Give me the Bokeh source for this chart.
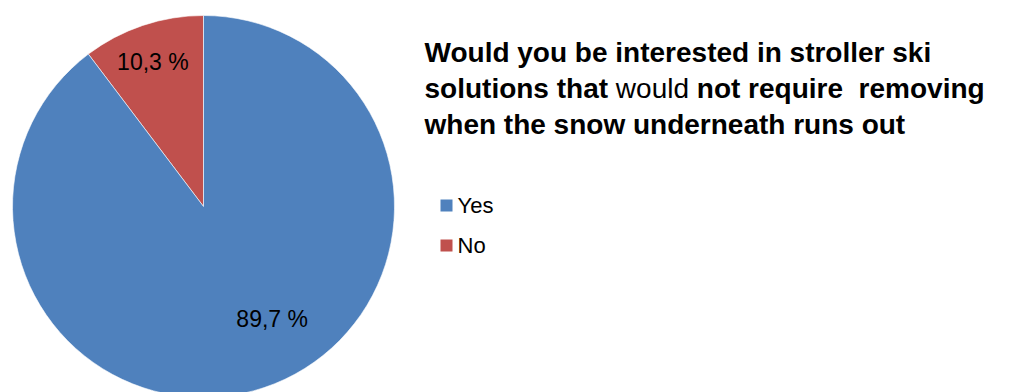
from bokeh.plotting import figure
from bokeh.models import Range1d, ColumnDataSource
from bokeh.core.properties import value
from bokeh.embed import file_html
from bokeh.resources import INLINE
import math

# Data
categories = ["Yes", "No"]
shares = [89.7, 10.3]
labels = ["89,7 %", "10,3 %"]
colors = ["#4F81BD", "#C0504D"]
title_lines = [
    [("Would you be interested in stroller ski", "bold")],
    [("solutions that ", "bold"), ("would", "normal"), (" not require", "bold"), ("  removing", "bold")],
    [("when the snow underneath runs out", "bold")],
]

W, H = 1021, 392
FONT = "Liberation Sans"
TITLE_SIZE = 28

p = figure(width=W, height=H, output_backend="svg", toolbar_location=None,
           x_range=Range1d(0, W), y_range=Range1d(0, H), min_border=0)
p.axis.visible = False
p.grid.visible = False
p.outline_line_color = None
p.background_fill_color = "white"


def px(x):
    return x


def py(y):
    return H - y


# Arial / Liberation Sans advance widths (per 1000 em) for the glyphs used
_reg = {" ": 278, "w": 722, "o": 556, "u": 556, "l": 222, "d": 556}
_bold = {" ": 278, "s": 556, "o": 611, "l": 278, "u": 611, "t": 333, "i": 278,
         "n": 611, "h": 611, "a": 556, "e": 556, "r": 389, "q": 611, "m": 889,
         "v": 556, "g": 611, "w": 778, "d": 611}


def text_width(s, style, size):
    tab = _bold if style == "bold" else _reg
    return sum(tab.get(ch, 556) for ch in s) * size / 1000.0


cx, cy, R = px(203), py(206), 191

# Slices: "No" starts at 12 o'clock going counter-clockwise, "Yes" fills the rest
total = sum(shares)
order = [1, 0]
starts, ends, cols = [], [], []
ang = math.pi / 2
angles = {}
for i in order:
    a = shares[i] / total * 2 * math.pi
    starts.append(ang)
    ends.append(ang + a)
    cols.append(colors[i])
    angles[i] = (ang, ang + a)
    ang += a

src = ColumnDataSource(dict(x=[cx] * 2, y=[cy] * 2, s=starts, e=ends, c=cols))
p.wedge(x="x", y="y", radius=R, start_angle="s", end_angle="e", fill_color="c",
        line_color="white", line_width=0.6, source=src)

# Slice labels
label_place = {0: (0.62, 31), 1: (0.8, -2)}
lx, ly, lt = [], [], []
for i in range(2):
    a0, a1 = angles[i]
    mid = (a0 + a1) / 2
    f, dx = label_place[i]
    lx.append(cx + f * R * math.cos(mid) + dx)
    ly.append(cy + f * R * math.sin(mid))
    lt.append(labels[i])
p.text(x=lx, y=ly, text=lt, text_align="center", text_baseline="middle",
       text_font=value(FONT), text_font_size="23px", text_color="black")

# Title (mixed bold / regular); spaces are advanced over, not drawn
title_x = px(424)
baselines = [py(52), py(88), py(124)]
for line, by in zip(title_lines, baselines):
    x = title_x
    for seg, style in line:
        lead = seg[: len(seg) - len(seg.lstrip(" "))]
        core = seg.strip(" ")
        xs = x + text_width(lead, style, TITLE_SIZE)
        p.text(x=[xs], y=[by], text=[core], text_align="left", text_baseline="alphabetic",
               text_font=value(FONT), text_font_size=f"{TITLE_SIZE}px",
               text_font_style=style, text_color="black")
        x += text_width(seg, style, TITLE_SIZE)

# Legend
leg_y = [py(205), py(245)]
p.rect(x=[px(446)] * 2, y=leg_y, width=12, height=12, fill_color=colors, line_color=None)
p.text(x=[px(457)] * 2, y=leg_y, text=categories, text_align="left", text_baseline="middle",
       text_font=value(FONT), text_font_size="22px", text_color="black")

open("out.html", "w").write(file_html(p, INLINE))
